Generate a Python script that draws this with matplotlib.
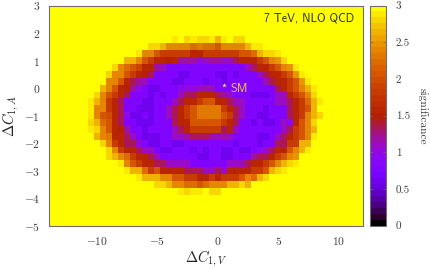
"""
Significance map in the (dC1V, dC1A) plane, 7 TeV, NLO QCD.
"""

import numpy as np
import matplotlib
matplotlib.use('Agg')
import matplotlib.pyplot as plt
from matplotlib.colors import ListedColormap

plt.rcParams['mathtext.fontset'] = 'cm'

# grid centres
x_start, x_stop, x_step = -14, 12, 0.5
y_start, y_stop, y_step = 3, -5, -0.25

# significance x 10, rows 5..27 from the top, columns 7..45; everything else saturates at 3
first_row = 5
first_col = 7
sig_rows = [
    [30,30,30,30,30,30,30,30,30,30,30,30,30,30,29,30,28,29,28,28,29,26,29,30,28,28,30,30,30,30,30,30,30,30,30,30,30,30,30],
    [30,30,30,30,30,30,30,30,30,30,28,28,26,24,24,24,24,22,23,22,22,21,24,24,24,24,26,29,29,30,30,30,30,30,30,30,30,30,30],
    [30,30,30,30,30,30,30,30,29,24,24,21,18,18,18,18,18,16,16,18,18,18,18,18,18,21,21,22,26,28,28,29,30,30,30,30,30,30,30],
    [30,30,30,30,30,30,26,26,24,21,18,16,16,15,16,12,12,12,10,11,12,12,11,11,13,16,16,16,18,21,24,25,28,30,30,30,30,30,30],
    [30,30,30,30,28,24,22,21,19,16,16,12,11,8,8,8,8,8,8,8,8,8,8,8,8,8,11,13,16,16,18,21,24,25,29,30,30,30,30],
    [30,30,30,28,24,24,21,18,16,15,13,8,8,8,8,6,6,8,8,8,8,6,6,8,6,8,8,8,11,13,16,16,18,21,25,29,30,30,30],
    [30,30,30,24,24,21,16,13,12,11,8,8,8,8,6,6,8,8,8,6,8,8,6,8,8,8,8,8,8,11,13,16,16,18,21,25,29,30,30],
    [30,30,26,24,21,16,15,12,9,8,6,6,8,8,8,9,10,10,11,12,11,8,8,8,8,8,8,8,8,8,8,13,16,18,21,24,26,29,30],
    [30,28,24,21,18,16,13,8,8,8,6,8,6,8,8,11,13,13,16,16,16,13,12,11,8,8,8,6,6,6,8,11,11,16,18,21,24,28,30],
    [29,26,24,18,16,13,8,8,8,6,6,8,8,8,11,13,16,16,18,21,21,16,16,13,11,11,8,8,8,8,8,11,11,13,16,18,22,26,29],
    [29,24,24,18,16,13,8,8,6,6,6,8,8,11,13,16,18,21,23,23,23,23,18,16,13,11,8,8,8,6,8,8,8,13,16,18,21,26,30],
    [29,24,21,20,16,13,9,6,6,8,6,8,8,11,13,16,18,21,23,23,23,23,21,18,13,11,8,8,6,6,8,8,8,13,16,18,24,26,28],
    [28,26,22,21,16,13,8,8,6,6,6,8,8,8,13,16,16,21,21,21,21,21,18,16,13,8,8,6,8,6,6,8,11,9,16,21,24,28,30],
    [29,28,24,21,16,15,12,8,8,6,8,8,8,8,11,13,16,18,18,18,18,18,13,16,11,8,8,8,8,8,8,8,11,13,18,21,24,26,30],
    [30,26,24,23,16,16,13,11,8,6,6,6,8,8,11,11,12,13,13,13,12,11,12,11,8,8,8,8,6,6,8,11,13,16,18,21,24,29,30],
    [30,30,28,24,18,16,13,13,10,8,6,6,8,8,6,6,8,8,8,8,8,8,8,8,6,8,8,8,6,8,8,13,13,18,18,26,26,30,30],
    [30,30,30,28,24,18,16,16,13,11,11,8,6,6,8,8,8,6,8,6,8,8,6,6,8,6,6,8,9,11,13,16,16,21,24,26,29,30,30],
    [30,30,30,28,26,24,22,18,16,16,13,11,8,8,8,8,8,8,6,6,8,8,6,6,8,8,8,12,13,13,16,18,21,24,25,30,30,30,30],
    [30,30,30,30,30,29,24,21,18,16,16,13,13,11,11,11,11,8,8,8,8,8,8,11,11,11,13,16,16,18,21,24,26,28,29,30,30,30,30],
    [30,30,30,30,30,30,29,26,26,22,18,21,16,16,16,16,13,13,13,11,11,13,11,16,16,16,16,18,18,21,26,28,29,30,30,30,30,30,30],
    [30,30,30,30,30,30,30,30,29,26,26,26,24,24,21,21,18,18,16,16,18,16,18,18,18,21,24,22,26,28,30,30,30,30,30,30,30,30,30],
    [30,30,30,30,30,30,30,30,30,30,30,28,28,26,24,24,22,22,21,22,24,24,24,26,26,28,26,30,30,30,30,30,30,30,30,30,30,30,30],
    [30,30,30,30,30,30,30,30,30,30,30,30,30,30,30,29,28,29,29,30,28,28,30,30,30,30,30,30,30,30,30,30,30,30,30,30,30,30,30],
]

x_ticks = [-10, -5, 0, 5, 10]
y_ticks = [-5, -4, -3, -2, -1, 0, 1, 2, 3]
cb_ticks = [0, 0.5, 1, 1.5, 2, 2.5, 3]
cb_labels = ['0', '0.5', '1', '1.5', '2', '2.5', '3']

sm_x, sm_y = 0.55, 0.1

border = '#6e6e6e'
text_col = '#3c3c3c'


def gnuplot_palette(levels=37):
    # default pm3d palette: r=sqrt(t), g=t^3, b=sin(2 pi t)
    t = np.linspace(0, 1, levels)
    r = np.sqrt(t)
    g = t ** 3
    b = np.clip(np.sin(2 * np.pi * t), 0, 1)
    return ListedColormap(np.column_stack([r, g, b]))


x = np.arange(x_start, x_stop + x_step, x_step)
y = np.arange(y_start, y_stop + y_step, y_step)
z = np.full((len(y), len(x)), 3.0)
z[first_row:first_row + len(sig_rows), first_col:first_col + len(sig_rows[0])] = np.array(sig_rows) / 10

W, H = 430, 269
fig = plt.figure(figsize=(W / 100, H / 100), dpi=100)
ax = fig.add_axes([48.5 / W, 1 - 225.7 / H, (362.7 - 48.5) / W, (225.7 - 5.5) / H])
mesh = ax.pcolormesh(x, y, z, cmap=gnuplot_palette(), vmin=0, vmax=3, shading='nearest', rasterized=True)
ax.set_xlim(x_start, x_stop)
ax.set_ylim(y_stop, y_start)

ax.set_xticks(x_ticks)
ax.set_xticklabels([f'${v}$' for v in x_ticks])
ax.set_yticks(y_ticks)
ax.set_yticklabels([f'${v}$' for v in y_ticks])
ax.tick_params(length=0, labelsize=8.3, labelcolor=text_col, pad=6)
ax.tick_params(axis='x', pad=7)
for s in ax.spines.values():
    s.set_color(border)
    s.set_linewidth(0.8)

ax.plot([sm_x], [sm_y], marker='*', ms=3.5, color='#f2d860', mew=0, ls='none')
ax.text(1.05, -0.05, 'SM', family='cmss10', fontsize=8.8, color='#e8c040', ha='left', va='center')
ax.text(354 / W, 1 - 18.5 / H, '7 TeV, NLO QCD', family='cmss10', fontsize=8.5, color='#303030',
        ha='right', va='center', transform=fig.transFigure)

fig.text(206 / W, 1 - 259 / H, r'$\Delta C_{1,V}$', fontsize=10.5, color='#222222', ha='center', va='center')
fig.text(11 / W, 1 - 116 / H, r'$\Delta C_{1,A}$', fontsize=10.5, color='#222222', ha='center', va='center', rotation=90)

cax = fig.add_axes([370.3 / W, 1 - 225.7 / H, (386 - 370.3) / W, (225.7 - 5.5) / H])
cb = fig.colorbar(mesh, cax=cax)
cb.set_ticks(cb_ticks)
cb.set_ticklabels(cb_labels)
cax.tick_params(direction='in', length=2, width=0.5, color=border, left=True, right=True,
                labelsize=8, labelcolor=text_col, pad=7)
for label in cax.get_yticklabels():
    label.set_family('cmr10')
cb.outline.set_edgecolor(border)
cb.outline.set_linewidth(0.8)
fig.text(423 / W, 1 - 116 / H, 'significance', family='cmr10', fontsize=8.2, color=text_col,
         rotation=-90, ha='center', va='center')

fig.savefig('out.png', dpi=100)
